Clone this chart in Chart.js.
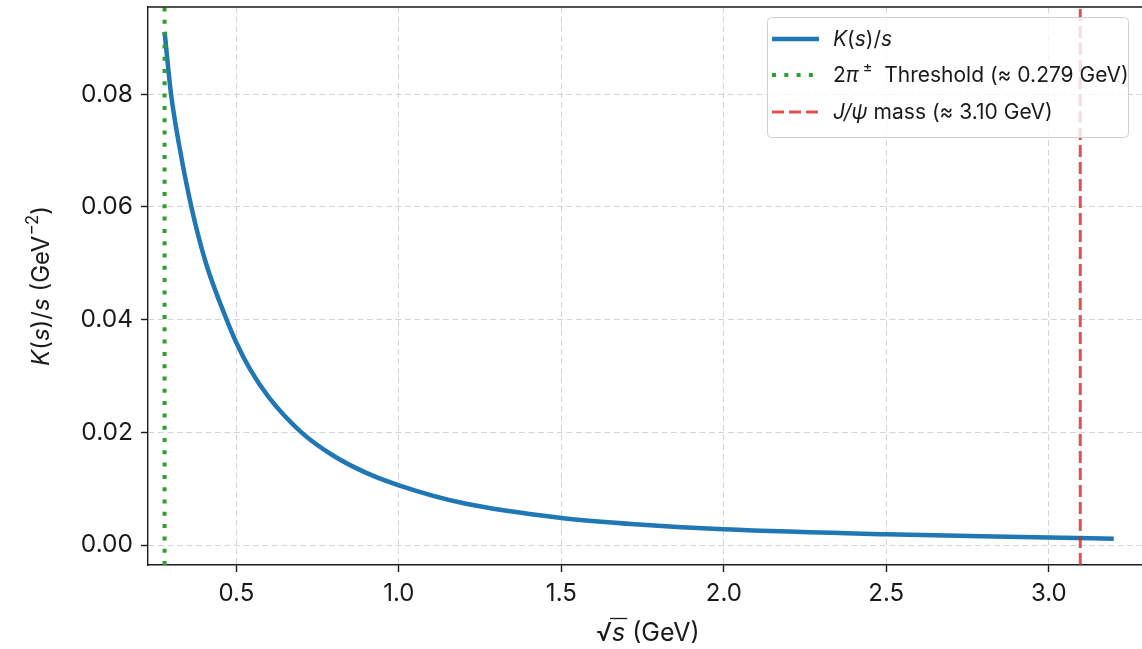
<!DOCTYPE html>
<html>
<head>
<meta charset="utf-8">
<script src="https://cdn.jsdelivr.net/npm/chart.js@4.4.0/dist/chart.umd.min.js"></script>
<style>
  html, body { margin: 0; padding: 0; background: #fff; overflow: hidden; }
  #wrap { width: 1142px; height: 649px; }
</style>
</head>
<body>
<div id="wrap"><canvas id="kernelChart" width="1142" height="649"></canvas></div>
<script>
  // sqrt(s) in GeV and the kernel K(s)/s in GeV^-2
  const sqrtS = [0.279, 0.299, 0.326, 0.3615, 0.406, 0.47, 0.5, 0.541, 0.60, 0.70, 0.80, 0.90, 1.0, 1.2, 1.5, 1.75, 2.0, 2.5, 3.0, 3.2];
  const kOverS = [0.0911, 0.0800, 0.0703, 0.0600, 0.0501, 0.0400, 0.0359, 0.0313, 0.0262, 0.0200, 0.0158, 0.0128, 0.0106, 0.0074, 0.0048, 0.0036, 0.0028, 0.0019, 0.00133, 0.0011];
  const thresholdMass = 0.279;
  const jpsiMass = 3.097;
  const xTicks = [0.5, 1.0, 1.5, 2.0, 2.5, 3.0];
  const yTicks = [0.00, 0.02, 0.04, 0.06, 0.08];
  const xRange = [0.228, 3.287];
  const yRange = [-0.00355, 0.0955];

  const FONT = "Inter, 'Open Sans', sans-serif";
  const INK = "#1a1a1a";
  const GRID = "rgba(176,176,176,0.55)";

  // draw a line of text made of runs (italic / superscript / overlined)
  function drawRuns(ctx, runs, x, y, size, align) {
    const fontOf = r => `${r.i ? "italic " : ""}${r.sup ? size * 0.7 : size}px ${FONT}`;
    let total = 0;
    runs.forEach(r => { ctx.font = fontOf(r); r.w = ctx.measureText(r.t).width; total += r.w; });
    let cx = align === "center" ? x - total / 2 : x;
    ctx.textAlign = "left";
    ctx.textBaseline = "middle";
    runs.forEach(r => {
      ctx.font = fontOf(r);
      ctx.fillText(r.t, cx, r.sup ? y - size * 0.38 : y);
      if (r.bar) {
        ctx.beginPath();
        ctx.lineWidth = 1.3;
        ctx.moveTo(cx - 2, y - size * 0.58);
        ctx.lineTo(cx + r.w + 2, y - size * 0.58);
        ctx.stroke();
      }
      cx += r.w;
    });
  }

  const frame = {
    id: "frame",
    afterDraw(chart) {
      const { ctx, chartArea } = chart;
      ctx.save();
      ctx.strokeStyle = INK;
      ctx.lineWidth = 1.4;
      ctx.beginPath();
      ctx.moveTo(chartArea.left, chartArea.top);
      ctx.lineTo(chartArea.right, chartArea.top);
      ctx.stroke();
      ctx.restore();
    }
  };

  const axisTitles = {
    id: "axisTitles",
    afterDraw(chart) {
      const { ctx, chartArea } = chart;
      ctx.save();
      ctx.fillStyle = INK;
      ctx.strokeStyle = INK;
      drawRuns(ctx, [{ t: "\u221A" }, { t: "s", i: true, bar: true }, { t: " (GeV)" }],
        (chartArea.left + chartArea.right) / 2 + 3, 633, 25, "center");
      ctx.translate(42, (chartArea.top + chartArea.bottom) / 2);
      ctx.rotate(-Math.PI / 2);
      drawRuns(ctx, [{ t: "K", i: true }, { t: "(" }, { t: "s", i: true }, { t: ")/" }, { t: "s", i: true },
        { t: " (GeV" }, { t: "\u22122", sup: true }, { t: ")" }], 0, 0, 24, "center");
      ctx.restore();
    }
  };

  const legendBox = {
    id: "legendBox",
    afterDraw(chart) {
      const { ctx } = chart;
      const box = { x: 767, y: 17, w: 361, h: 120 };
      ctx.save();
      ctx.fillStyle = "rgba(255,255,255,0.8)";
      ctx.strokeStyle = "#d0d0d0";
      ctx.lineWidth = 1;
      ctx.beginPath();
      ctx.roundRect(box.x + 0.5, box.y + 0.5, box.w, box.h, 4);
      ctx.fill();
      ctx.stroke();
      const rows = [
        { y: 39, color: "#1f77b4", width: 4.5, dash: [], runs: [{ t: "K", i: true }, { t: "(" }, { t: "s", i: true }, { t: ")/" }, { t: "s", i: true }] },
        { y: 75, color: "#2ca02c", width: 4, dash: [4, 8.3], runs: [{ t: "2" }, { t: "\u03C0", i: true }, { t: " \u00B1", sup: true }, { t: "  Threshold (\u2248 0.279 GeV)" }] },
        { y: 112, color: "rgba(214,39,40,0.8)", width: 3, dash: [12, 5], runs: [{ t: "J/\u03C8", i: true }, { t: " mass (\u2248 3.10 GeV)" }] }
      ];
      rows.forEach(r => {
        ctx.strokeStyle = r.color;
        ctx.lineWidth = r.width;
        ctx.setLineDash(r.dash);
        ctx.beginPath();
        ctx.moveTo(772, r.y);
        ctx.lineTo(819, r.y);
        ctx.stroke();
        ctx.setLineDash([]);
        ctx.fillStyle = INK;
        ctx.strokeStyle = INK;
        drawRuns(ctx, r.runs, 833, r.y + 1, 21, "left");
      });
      ctx.restore();
    }
  };

  const curve = sqrtS.map((x, i) => ({ x: x, y: kOverS[i] }));

  new Chart(document.getElementById("kernelChart"), {
    type: "line",
    data: {
      datasets: [
        {
          label: "K(s)/s",
          data: curve,
          borderColor: "#1f77b4",
          borderWidth: 4.5,
          pointRadius: 0,
          cubicInterpolationMode: "monotone",
          order: 3
        },
        {
          label: "2\u03C0\u00B1 Threshold",
          data: [{ x: thresholdMass, y: yRange[0] }, { x: thresholdMass, y: yRange[1] }],
          borderColor: "#2ca02c",
          borderWidth: 4,
          borderDash: [4, 8.3],
          borderCapStyle: "butt",
          pointRadius: 0,
          order: 2
        },
        {
          label: "J/\u03C8 mass",
          data: [{ x: jpsiMass, y: yRange[0] }, { x: jpsiMass, y: yRange[1] }],
          borderColor: "rgba(214,39,40,0.8)",
          borderWidth: 3,
          borderDash: [12, 5],
          pointRadius: 0,
          order: 1
        }
      ]
    },
    options: {
      responsive: false,
      animation: false,
      devicePixelRatio: 1,
      layout: { padding: { top: 7, right: 0, bottom: 0, left: 0 } },
      plugins: { legend: { display: false }, tooltip: { enabled: false } },
      scales: {
        x: {
          type: "linear",
          min: xRange[0],
          max: xRange[1],
          afterFit: s => { s.height = 84; s.paddingLeft = 0; s.paddingRight = 0; },
          afterBuildTicks: s => { s.ticks = xTicks.map(v => ({ value: v })); },
          grid: { color: GRID, lineWidth: 1, tickColor: INK, tickLength: 7, tickWidth: 1.4 },
          border: { color: INK, width: 1.4, dash: [6, 3.5] },
          ticks: { color: INK, font: { family: FONT, size: 24 }, padding: 7, maxRotation: 0, callback: v => v.toFixed(1) }
        },
        y: {
          type: "linear",
          min: yRange[0],
          max: yRange[1],
          afterFit: s => { s.width = 148; s.paddingTop = 0; s.paddingBottom = 0; },
          afterBuildTicks: s => { s.ticks = yTicks.map(v => ({ value: v })); },
          grid: { color: GRID, lineWidth: 1, tickColor: INK, tickLength: 7, tickWidth: 1.4 },
          border: { color: INK, width: 1.4, dash: [6, 3.5] },
          ticks: { color: INK, font: { family: FONT, size: 24.5 }, padding: 8, callback: v => v.toFixed(2) }
        }
      }
    },
    plugins: [frame, legendBox, axisTitles]
  });
</script>
</body>
</html>
